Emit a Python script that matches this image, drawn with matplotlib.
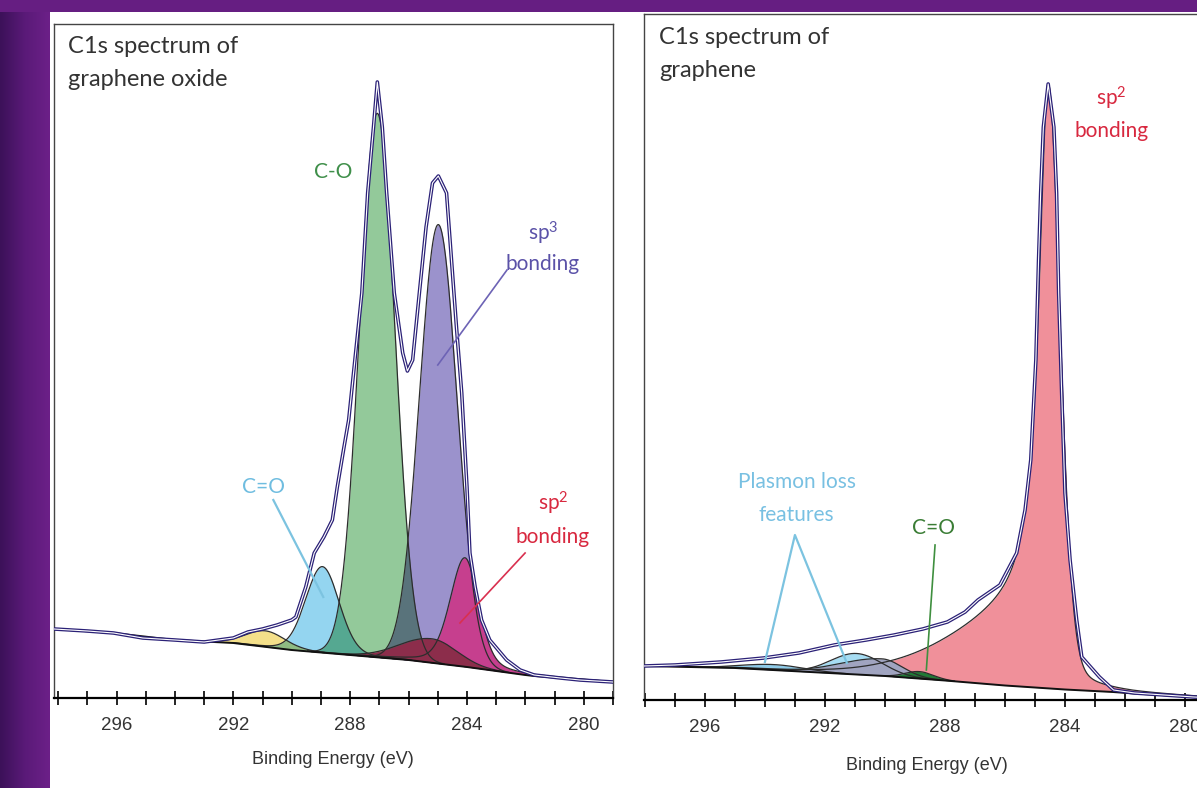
import numpy as np
import matplotlib.pyplot as plt
from matplotlib.colors import LinearSegmentedColormap, to_rgb
from matplotlib.ticker import MultipleLocator
from itertools import combinations

W, H = 1197, 788

# ---- graphene oxide (left panel) ----
GO_E = [298.14, 297.0, 296.1, 295.1, 294.0, 293.0, 292.5, 292.0, 291.5, 291.0,
        290.5, 290.0, 289.86, 289.52, 289.23, 288.9, 288.61, 288.44, 288.21, 288.05,
        287.6, 287.4, 287.2, 287.07, 286.9, 286.75, 286.49, 286.2, 286.04, 285.86,
        285.63, 285.4, 285.18, 284.98, 284.7, 284.53, 284.36, 284.18, 284.0, 283.9,
        283.72, 283.5, 283.22, 282.64, 282.18, 281.7, 280.8, 280.13, 279.0]
GO_I = [69, 67, 65, 60, 58, 56, 58, 60, 66, 69,
        73, 78, 81, 111, 145, 161, 178, 211, 251, 278,
        405, 505, 571, 616, 571, 505, 405, 345, 327, 338,
        405, 471, 515, 522, 505, 438, 371, 305, 211, 145,
        111, 78, 58, 38, 28, 23, 20, 18, 16]
GO_BG_E = [298.14, 296.1, 294.0, 292.0, 290.0, 288.0, 286.0, 284.0, 282.0, 281.7, 280.8, 279.0]
GO_BG_I = [69, 65, 58, 55, 48, 43, 38, 31, 23, 22, 20, 16]

# fitted components: shake-up, C=O, C-O, sp3, sp2, defect
GO_CENTRE = [290.9, 288.95, 287.07, 284.98, 284.07, 285.2]
GO_HEIGHT = [16, 86, 544, 439, 109, 24]
GO_FWHM_HI = [1.6, 1.35, 1.42, 1.52, 1.2, 2.6]
GO_FWHM_LO = [1.6, 1.35, 1.42, 1.52, 1.1, 2.0]
GO_MIX_HI = [0.1, 0.1, 0.0, 0.0, 0.3, 0.0]
GO_MIX_LO = [0.1, 0.1, 0.0, 0.0, 0.3, 0.0]
GO_TAIL_HI = [1, 1, 1, 1, 1, 1]
GO_COLOURS = ['#f4e08a', '#94d5f0', '#93c99a', '#9b92cc', '#c63f8e', '#8c2d4b']

# ---- graphene (right panel) ----
GR_E = [298.03, 297.0, 295.46, 294.04, 292.87, 291.69, 290.63, 289.69, 288.74, 287.92,
        287.33, 286.9, 286.17, 285.61, 285.33, 285.14, 284.97, 284.88, 284.81, 284.72,
        284.56, 284.37, 284.28, 284.21, 284.11, 284.0, 283.83, 283.61, 283.44, 282.85,
        282.38, 281.68, 279.7, 279.0]
GR_I = [34, 35, 38, 42, 47, 55, 60, 65, 71, 78,
        88, 100, 115, 147, 190, 240, 340, 440, 507, 573,
        616, 573, 507, 407, 307, 207, 140, 80, 43, 23,
        10, 7, 3, 2]
GR_BG_E = [298.03, 295.0, 292.5, 290.0, 288.0, 286.0, 284.0, 282.4, 281.7, 279.0]
GR_BG_I = [34, 32, 28, 24, 19.5, 14.5, 10.5, 8, 6.5, 2]

# sp2, plasmon A, plasmon B, plasmon shoulder, C=O
GR_CENTRE = [284.56, 293.7, 290.95, 290.1, 288.85]
GR_HEIGHT = [605, 5.5, 21, 17, 7]
GR_FWHM_HI = [0.75, 2.4, 2.0, 3.2, 1.1]
GR_FWHM_LO = [0.95, 2.4, 2.0, 1.6, 1.1]
GR_MIX_HI = [0.87, 0.0, 0.0, 0.0, 0.0]
GR_MIX_LO = [0.2, 0.0, 0.0, 0.0, 0.0]
GR_TAIL_HI = [8.7, 1, 1, 1, 1]
GR_COLOURS = ['#f0909a', '#8fcbe8', '#a6dcf2', '#a0a4c0', '#1f7a35']


def side(dx, fwhm, mix, tail):
    lor = 1.0 / (1.0 + (2 * dx / fwhm) ** 2)
    gau = np.exp(-4 * np.log(2) * (dx / (fwhm * tail)) ** 2)
    return mix * lor + (1 - mix) * gau


def component(e, k, centre, height, fw_hi, fw_lo, mix_hi, mix_lo, tail_hi):
    dx = e - centre[k]
    hi = side(dx, fw_hi[k], mix_hi[k], tail_hi[k])
    lo = side(dx, fw_lo[k], mix_lo[k], 1.0)
    return height[k] * np.where(dx >= 0, hi, lo)


def setup_axes(ax, xlim, ymax, label_x, label_y):
    ax.set_xlim(*xlim)
    ax.set_ylim(0, ymax)
    ax.set_yticks([])
    ax.xaxis.set_major_locator(MultipleLocator(4))
    ax.xaxis.set_minor_locator(MultipleLocator(1))
    ax.tick_params(axis='x', which='both', direction='inout', length=10, width=1.2,
                   color='black', pad=9, labelsize=13.5, labelcolor='#333333')
    for lab in ax.get_xticklabels():
        lab.set_family(['Liberation Sans Narrow', 'Liberation Sans'])
    for s in ['left', 'top', 'right']:
        ax.spines[s].set_color('#444444')
        ax.spines[s].set_linewidth(1.0)
    ax.spines['bottom'].set_color('black')
    ax.spines['bottom'].set_linewidth(1.6)
    ax.text(label_x, label_y, 'Binding Energy (eV)', transform=ax.transAxes,
            ha='center', va='center', fontsize=13, color='#333333',
            family=['Liberation Sans Narrow', 'Liberation Sans'])


def draw_data(ax, e, i):
    ax.plot(e, i, color='#2b2177', lw=2.6, zorder=6, solid_joinstyle='round')
    ax.plot(e, i, color='white', lw=0.8, zorder=7)


fig = plt.figure(figsize=(W / 100, H / 100), dpi=100, facecolor='white')

# purple slide background
bg_ax = fig.add_axes([0, 0, 1, 1], zorder=-10)
bg_ax.set_xlim(0, W)
bg_ax.set_ylim(H, 0)
bg_ax.axis('off')
purple = LinearSegmentedColormap.from_list('slide', ['#3c1159', '#5a1a78', '#6c2088'])
bg_ax.imshow(np.linspace(0, 1, 64)[None, :], cmap=purple, aspect='auto',
             extent=[0, 50, H, 0])
bg_ax.add_patch(plt.Rectangle((0, 0), W, 12, color='#661e82', lw=0))

TITLE_FONT = ['Lato', 'DejaVu Sans']
SP2 = r'$\mathregular{sp^2}$'
SP3 = r'$\mathregular{sp^3}$'

# ---------------- left panel ----------------
ax1 = fig.add_axes([54 / W, 90 / H, 559 / W, 674 / H])
e1 = np.linspace(279.0, 298.14, 2000)
base1 = np.interp(e1, GO_BG_E[::-1], GO_BG_I[::-1])
h1 = [component(e1, k, GO_CENTRE, GO_HEIGHT, GO_FWHM_HI, GO_FWHM_LO,
                GO_MIX_HI, GO_MIX_LO, GO_TAIL_HI) for k in range(len(GO_CENTRE))]

# first four components blend where they overlap (multiply colours)
for k in range(4):
    ax1.fill_between(e1, base1, base1 + h1[k], where=h1[k] > 0.4,
                     color=GO_COLOURS[k], lw=0, zorder=2)
for size in range(2, 5):
    for combo in combinations(range(4), size):
        hm = np.min([h1[k] for k in combo], axis=0)
        rgb = np.prod([to_rgb(GO_COLOURS[k]) for k in combo], axis=0)
        ax1.fill_between(e1, base1, base1 + hm, where=hm > 0.4, color=rgb, lw=0, zorder=2)
for k in (4, 5):
    ax1.fill_between(e1, base1, base1 + h1[k], where=h1[k] > 0.4,
                     color=GO_COLOURS[k], lw=0, zorder=3)
for k in range(len(h1)):
    m = h1[k] > 0.4
    ax1.plot(e1[m], (base1 + h1[k])[m], color='#2d2d2d', lw=0.9, zorder=4)
ax1.plot(GO_BG_E, GO_BG_I, color='#111111', lw=1.4, zorder=5)
draw_data(ax1, GO_E, GO_I)

setup_axes(ax1, (298.14, 279.0), 674, (333 - 54) / 559, (698 - 759) / 674)

ax1.text(0.025, 0.966, 'C1s spectrum of', transform=ax1.transAxes, ha='left', va='center',
         fontsize=17, color='#333333', family=TITLE_FONT)
ax1.text(0.025, 0.917, 'graphene oxide', transform=ax1.transAxes, ha='left', va='center',
         fontsize=17, color='#333333', family=TITLE_FONT)

ax1.text(288.59, 526, 'C-O', ha='center', va='center', fontsize=15, color='#3f8f4a',
         family=TITLE_FONT, zorder=8)
ax1.text(281.4, 465, SP3, ha='center', va='center', fontsize=15, color='#5b52a8',
         family=TITLE_FONT, zorder=8)
ax1.text(281.4, 434, 'bonding', ha='center', va='center', fontsize=15, color='#5b52a8',
         family=TITLE_FONT, zorder=8)
ax1.plot([282.63, 285.0], [428, 333], color='#6d63b5', lw=1.2, zorder=8)
ax1.text(290.95, 211, 'C=O', ha='center', va='center', fontsize=15, color='#6fbde0',
         family=TITLE_FONT, zorder=8)
ax1.plot([290.63, 288.92], [198, 101], color='#7cc3e0', lw=1.6, zorder=8)
ax1.text(281.06, 195, SP2, ha='center', va='center', fontsize=15, color='#d8283f',
         family=TITLE_FONT, zorder=8)
ax1.text(281.06, 161, 'bonding', ha='center', va='center', fontsize=15, color='#d8283f',
         family=TITLE_FONT, zorder=8)
ax1.plot([282.01, 284.24], [145, 75], color='#d9304f', lw=1.2, zorder=8)

# ---------------- right panel ----------------
ax2 = fig.add_axes([644 / W, 88 / H, 571 / W, 686 / H])
e2 = np.linspace(279.0, 298.03, 2000)
base2 = np.interp(e2, GR_BG_E[::-1], GR_BG_I[::-1])
h2 = [component(e2, k, GR_CENTRE, GR_HEIGHT, GR_FWHM_HI, GR_FWHM_LO,
                GR_MIX_HI, GR_MIX_LO, GR_TAIL_HI) for k in range(len(GR_CENTRE))]
for k in range(len(h2)):
    ax2.fill_between(e2, base2, base2 + h2[k], where=h2[k] > 0.3,
                     color=GR_COLOURS[k], lw=0, zorder=2 + k * 0.1)
for k in range(len(h2)):
    m = h2[k] > 0.3
    ax2.plot(e2[m], (base2 + h2[k])[m], color='#2d2d2d', lw=0.9, zorder=4)
ax2.plot(GR_BG_E, GR_BG_I, color='#111111', lw=1.4, zorder=5)
draw_data(ax2, GR_E, GR_I)

setup_axes(ax2, (298.03, 279.0), 686, (927 - 644) / 571, (700 - 766) / 686)

ax2.text(0.026, 0.966, 'C1s spectrum of', transform=ax2.transAxes, ha='left', va='center',
         fontsize=17, color='#333333', family=TITLE_FONT)
ax2.text(0.026, 0.917, 'graphene', transform=ax2.transAxes, ha='left', va='center',
         fontsize=17, color='#333333', family=TITLE_FONT)

ax2.text(282.45, 602, SP2, ha='center', va='center', fontsize=15, color='#d8283f',
         family=TITLE_FONT, zorder=8)
ax2.text(282.45, 569, 'bonding', ha='center', va='center', fontsize=15, color='#d8283f',
         family=TITLE_FONT, zorder=8)
ax2.text(292.94, 218, 'Plasmon loss', ha='center', va='center', fontsize=15, color='#78c0e2',
         family=TITLE_FONT, zorder=8)
ax2.text(292.94, 185, 'features', ha='center', va='center', fontsize=15, color='#78c0e2',
         family=TITLE_FONT, zorder=8)
ax2.plot([294.0, 293.0, 291.27], [38, 165, 37], color='#7cc3e0', lw=1.6, zorder=8)
ax2.text(288.39, 172, 'C=O', ha='center', va='center', fontsize=15, color='#3a7d35',
         family=TITLE_FONT, zorder=8)
ax2.plot([288.33, 288.62], [155, 30], color='#3f8f3f', lw=1.2, zorder=8)

fig.savefig('out.png', dpi=100, facecolor='white')
